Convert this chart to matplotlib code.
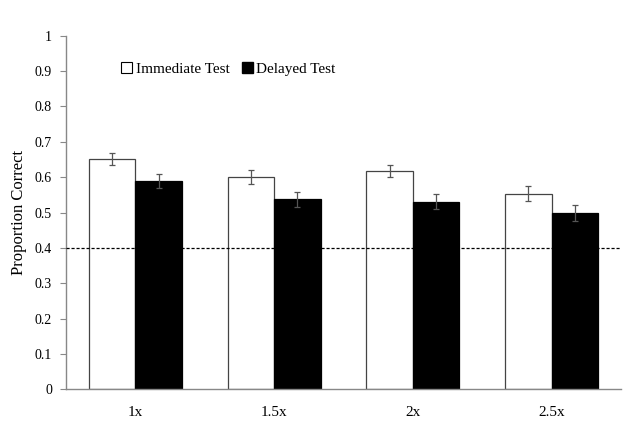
import numpy as np
import matplotlib.pyplot as plt
from matplotlib.patches import Patch

categories = ['1x', '1.5x', '2x', '2.5x']
immediate = [0.651, 0.601, 0.617, 0.553]
immediate_err = [0.017, 0.020, 0.018, 0.021]
delayed = [0.589, 0.537, 0.531, 0.499]
delayed_err = [0.019, 0.021, 0.021, 0.023]
chance = 0.4

plt.rcParams['font.family'] = ['Liberation Serif', 'DejaVu Serif']

fig = plt.figure(figsize=(6.38, 4.34), dpi=100)
ax = fig.add_axes([66 / 638, 1 - 389.3 / 434, (621 - 66) / 638, (389.3 - 35.7) / 434])

x = np.arange(len(categories))
w = 0.335
err_kw = dict(ecolor='#555555', elinewidth=0.9, capsize=2.2, capthick=0.9)
ax.bar(x - w / 2, immediate, w, yerr=immediate_err, color='white', edgecolor='#444444',
       linewidth=0.9, error_kw=err_kw, label='Immediate Test', zorder=2)
ax.bar(x + w / 2, delayed, w, yerr=delayed_err, color='black', edgecolor='black',
       linewidth=0.9, error_kw=err_kw, label='Delayed Test', zorder=2)

ax.axhline(chance, color='black', linestyle=(0, (2.5, 1.5)), linewidth=0.9, zorder=3)

ax.set_xlim(-0.5, len(categories) - 0.5)
ax.set_ylim(0, 1)
ax.set_yticks(np.arange(0, 1.01, 0.1))
ax.set_yticklabels(['0'] + ['%.1f' % v for v in np.arange(0.1, 0.95, 0.1)] + ['1'])
ax.set_xticks(x)
ax.set_xticklabels(categories)
ax.tick_params(axis='x', length=0, labelsize=11, pad=12)
ax.tick_params(axis='y', length=4, width=0.8, color='#888888', labelsize=10, pad=6)

for s in ['top', 'right']:
    ax.spines[s].set_visible(False)
for s in ['left', 'bottom']:
    ax.spines[s].set_color('#888888')
    ax.spines[s].set_linewidth(1.0)

ax.set_ylabel('Proportion Correct', fontsize=12, labelpad=6)

handles = [Patch(facecolor='white', edgecolor='black', linewidth=0.8),
           Patch(facecolor='black', edgecolor='black')]
ax.legend(handles, ['Immediate Test', 'Delayed Test'], loc='upper left',
          bbox_to_anchor=(0.075, 0.965), ncol=2, frameon=False, fontsize=11,
          handlelength=0.7, handleheight=0.7, handletextpad=0.25, columnspacing=0.8)

fig.savefig('out.png', dpi=100)
